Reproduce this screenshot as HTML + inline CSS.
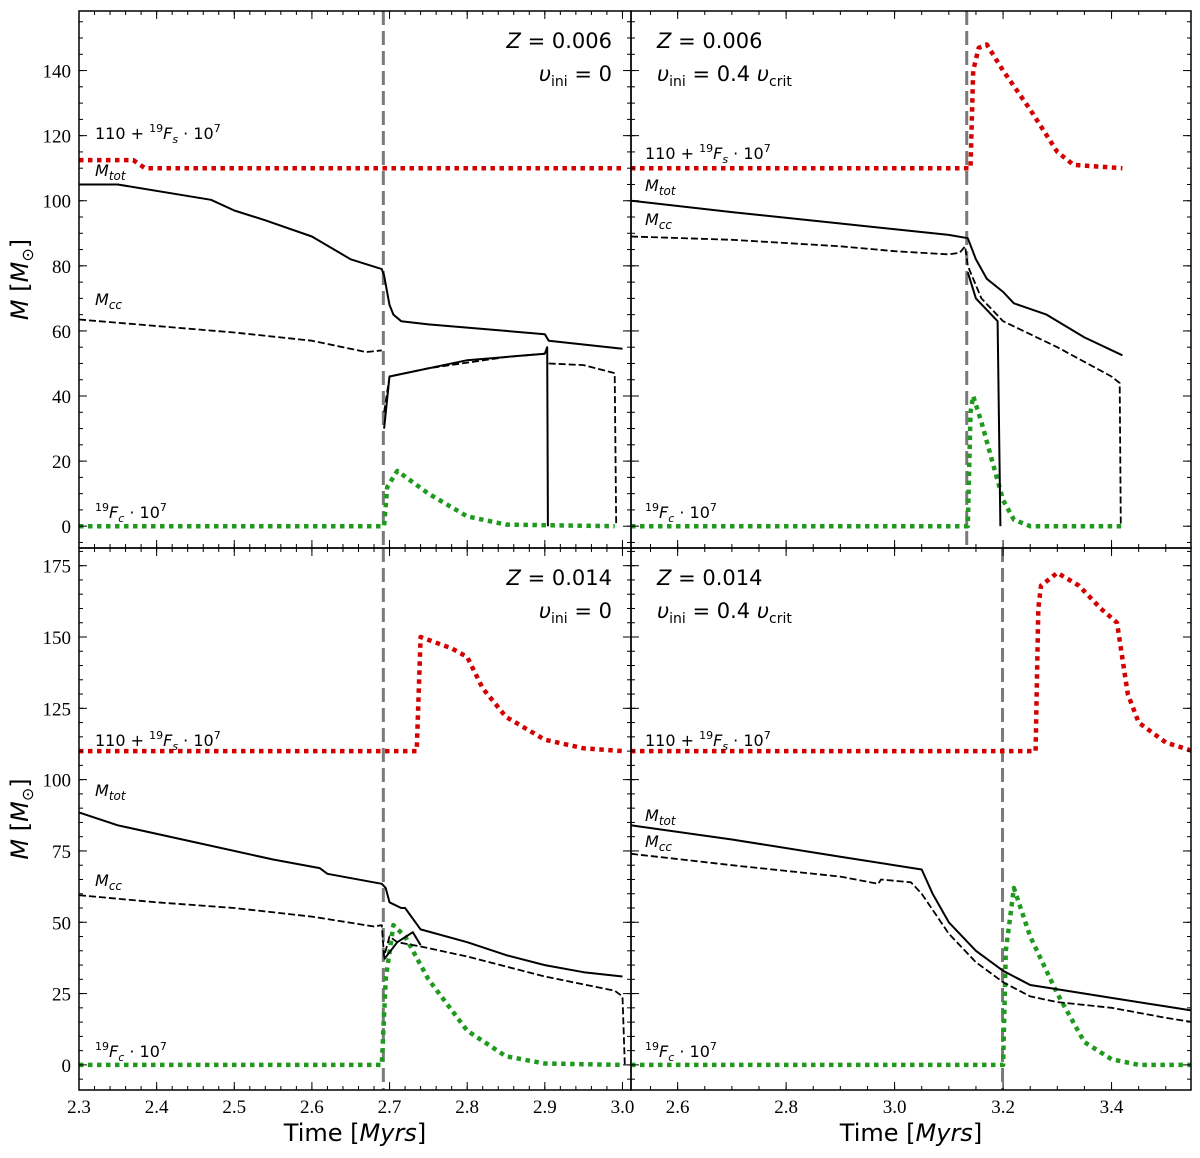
<!DOCTYPE html>
<html><head><meta charset="utf-8"><style>
body{margin:0;background:#fff}
svg{display:block}
text{font-family:"DejaVu Sans",sans-serif}
.tk{font-family:"Liberation Serif",serif;font-size:19px}
</style></head><body>
<svg id="fig" width="1200" height="1158" viewBox="0 0 1200 1158" xmlns="http://www.w3.org/2000/svg"></svg>
<script>
// ---- data (time in Myr, mass in Msun) ----
const tlRed=[[2.3,112.5],[2.37,112.5],[2.385,110],[3.0,110]];
const tlTot=[[2.3,105],[2.35,105],[2.47,100.3],[2.5,97],[2.54,94],[2.6,89],[2.65,82],[2.69,79],[2.693,77],[2.70,68],[2.705,65],[2.715,63],[2.75,62],[2.85,60],[2.9,59],[2.905,57],[3.0,54.5]];
const tlCcA=[[2.3,63.5],[2.4,61.5],[2.5,59.5],[2.6,57],[2.67,53.5],[2.69,54]];
const tlCcB=[[2.693,35],[2.70,46],[2.75,48.5],[2.85,52],[2.90,53]];
const tlCcC=[[2.905,50],[2.95,49.5],[2.99,47],[2.992,0]];
const tlCore=[[2.693,30],[2.70,46],[2.8,51],[2.90,53],[2.903,55],[2.904,0]];
const tlGreen=[[2.3,0],[2.693,0],[2.697,12],[2.71,17],[2.75,10],[2.8,3],[2.85,0.5],[2.99,0]];
const trRed=[[2.514,110],[3.14,110],[3.145,140],[3.155,147],[3.17,148],[3.2,140],[3.25,128],[3.3,115],[3.33,111],[3.42,110]];
const trTot=[[2.514,100],[2.7,96.5],[2.9,93],[3.1,89.5],[3.135,88.5],[3.15,82],[3.17,76],[3.2,72],[3.22,68.5],[3.28,65],[3.35,58],[3.42,52.5]];
const trCc=[[2.514,89],[2.7,88],[2.9,86],[3.0,84.5],[3.1,83.5],[3.12,84],[3.13,86],[3.135,80],[3.16,70],[3.2,63],[3.3,55],[3.4,46],[3.415,44],[3.417,0]];
const trCore=[[3.135,78],[3.15,70],[3.19,63],[3.195,0]];
const trGreen=[[2.514,0],[3.135,0],[3.14,35],[3.145,40],[3.16,32],[3.18,20],[3.2,8],[3.22,2],[3.25,0],[3.42,0]];
const blRed=[[2.3,110],[2.735,110],[2.74,150],[2.78,146],[2.80,143],[2.82,132],[2.85,122],[2.9,114],[2.95,111],[3.0,110]];
const blTot=[[2.3,88.5],[2.35,84],[2.45,78],[2.55,72],[2.61,69],[2.62,67],[2.69,63.5],[2.695,62],[2.70,57],[2.715,55],[2.72,55],[2.74,47.5],[2.8,43],[2.85,38.5],[2.9,35],[2.95,32.5],[3.0,31]];
const blCc=[[2.3,59.5],[2.4,57],[2.5,55],[2.6,52],[2.68,48.5],[2.69,49],[2.693,38],[2.70,45],[2.71,43],[2.74,41.5],[2.8,38],[2.9,31],[2.99,26],[3.0,24],[3.003,0]];
const blCore=[[2.693,37],[2.71,43],[2.73,46.5],[2.74,42]];
const blGreen=[[2.3,0],[2.69,0],[2.695,30],[2.705,49],[2.72,45],[2.75,30],[2.8,12],[2.85,3],[2.9,0.5],[3.0,0]];
const brRed=[[2.514,110],[3.26,110],[3.265,160],[3.27,168],[3.3,172.5],[3.34,168],[3.38,160],[3.41,155],[3.43,130],[3.45,120],[3.5,113],[3.55,110]];
const brTot=[[2.514,84],[2.7,79],[2.9,73],[3.05,68.5],[3.07,60],[3.1,50],[3.15,40],[3.2,33],[3.25,28],[3.3,26.5],[3.4,23.5],[3.5,20.5],[3.55,19]];
const brCc=[[2.514,74],[2.7,70],[2.9,66],[2.97,63.5],[2.975,65],[3.03,64],[3.05,60],[3.1,46],[3.15,36],[3.2,29],[3.25,24],[3.3,22],[3.4,20],[3.5,16.5],[3.55,15]];
const brGreen=[[2.514,0],[3.2,0],[3.205,40],[3.22,62],[3.25,45],[3.3,25],[3.35,8],[3.4,2],[3.45,0],[3.55,0]];
const vlines=[2.692,3.133,2.692,3.199];
const leftXTicks=[2.3,2.4,2.5,2.6,2.7,2.8,2.9,3.0];
const rightXTicks=[2.6,2.8,3.0,3.2,3.4];
const topYTicks=[0,20,40,60,80,100,120,140];
const botYTicks=[0,25,50,75,100,125,150,175];

const NS="http://www.w3.org/2000/svg";
const svg=document.getElementById('fig');
function el(tag,attrs,parent){const e=document.createElementNS(NS,tag);for(const k in attrs)e.setAttribute(k,attrs[k]);(parent||svg).appendChild(e);return e;}

const panels=[
 {name:'top-left',x0:79,x1:631,y0:11,y1:548,xmin:2.3,xmax:3.011,ymin:-6.7,ymax:158.3,xt:leftXTicks,xm:0.02,yt:topYTicks,ym:5,
  series:[[tlRed,'red'],[tlGreen,'green'],[tlTot,'tot'],[tlCcA,'cc'],[tlCcB,'cc'],[tlCcC,'cc'],[tlCore,'core']],vl:vlines[0],
  lab:[[95,139,'r'],[95,176,'t'],[95,305,'c'],[95,518,'f']],txt:{x:612,anchor:'end',z:'0.006',v:'0'}},
 {name:'top-right',x0:631,x1:1191,y0:11,y1:548,xmin:2.514,xmax:3.5465,ymin:-6.7,ymax:158.3,xt:rightXTicks,xm:0.05,yt:topYTicks,ym:5,
  series:[[trRed,'red'],[trGreen,'green'],[trTot,'tot'],[trCc,'cc'],[trCore,'core']],vl:vlines[1],
  lab:[[645,159,'r'],[645,191,'t'],[645,225,'c'],[645,518,'f']],txt:{x:657,anchor:'start',z:'0.006',v:'0.4'}},
 {name:'bottom-left',x0:79,x1:631,y0:548,y1:1090,xmin:2.3,xmax:3.011,ymin:-8.8,ymax:181.2,xt:leftXTicks,xm:0.02,yt:botYTicks,ym:5,
  series:[[blRed,'red'],[blGreen,'green'],[blTot,'tot'],[blCc,'cc'],[blCore,'core']],vl:vlines[2],
  lab:[[95,746,'r'],[95,796,'t'],[95,886,'c'],[95,1057,'f']],txt:{x:612,anchor:'end',z:'0.014',v:'0'}},
 {name:'bottom-right',x0:631,x1:1191,y0:548,y1:1090,xmin:2.514,xmax:3.5465,ymin:-8.8,ymax:181.2,xt:rightXTicks,xm:0.05,yt:botYTicks,ym:5,
  series:[[brRed,'red'],[brGreen,'green'],[brTot,'tot'],[brCc,'cc']],vl:vlines[3],
  lab:[[645,746,'r'],[645,821,'t'],[645,847,'c'],[645,1057,'f']],txt:{x:657,anchor:'start',z:'0.014',v:'0.4'}}
];
const styles={red:{stroke:'#d40000','stroke-width':4.5,'stroke-dasharray':'4.5 4.5'},
 green:{stroke:'#1f9a1f','stroke-width':4.5,'stroke-dasharray':'4.5 4.5'},
 tot:{stroke:'#000','stroke-width':2},cc:{stroke:'#000','stroke-width':1.8,'stroke-dasharray':'7 3'},core:{stroke:'#000','stroke-width':2}};

panels.forEach((p,pi)=>{
  const g=el('g',{});
  
  
  const X=v=>p.x0+(v-p.xmin)/(p.xmax-p.xmin)*(p.x1-p.x0);
  const Y=v=>p.y1-(v-p.ymin)/(p.ymax-p.ymin)*(p.y1-p.y0);
  const clip=el('clipPath',{id:'c'+pi},g);el('rect',{x:p.x0,y:p.y0,width:p.x1-p.x0,height:p.y1-p.y0},clip);
  const cg=el('g',{'clip-path':'url(#c'+pi+')'},g);
  const vl=el('line',{x1:X(p.vl),x2:X(p.vl),y1:p.y0,y2:p.y1,stroke:'#7a7a7a','stroke-width':3,'stroke-dasharray':'14 6'},cg);
  
  
  p.series.forEach(([d,k])=>{
    const path=el('path',Object.assign({d:d.map((q,i)=>(i?'L':'M')+X(q[0]).toFixed(1)+','+Y(q[1]).toFixed(1)).join(''),fill:'none','stroke-linejoin':'round'},styles[k]),cg);
    
    
  });
  el('rect',{x:p.x0,y:p.y0,width:p.x1-p.x0,height:p.y1-p.y0,fill:'none',stroke:'#000','stroke-width':1.5},g);
  for(let v=Math.ceil(p.xmin/p.xm)*p.xm;v<=p.xmax+1e-9;v+=p.xm){const x=X(v);
    el('line',{x1:x,x2:x,y1:p.y1,y2:p.y1-4,stroke:'#000'},g);el('line',{x1:x,x2:x,y1:p.y0,y2:p.y0+4,stroke:'#000'},g);}
  p.xt.forEach(v=>{const x=X(v);
    el('line',{x1:x,x2:x,y1:p.y1,y2:p.y1-8,stroke:'#000'},g);el('line',{x1:x,x2:x,y1:p.y0,y2:p.y0+8,stroke:'#000'},g);
    if(pi>=2){const t=el('text',{x:x,y:p.y1+23,'text-anchor':'middle',class:'tk'},g);t.textContent=v.toFixed(1);
      }});
  for(let v=Math.ceil(p.ymin/p.ym)*p.ym;v<=p.ymax;v+=p.ym){const y=Y(v);
    el('line',{x1:p.x0,x2:p.x0+4,y1:y,y2:y,stroke:'#000'},g);el('line',{x1:p.x1,x2:p.x1-4,y1:y,y2:y,stroke:'#000'},g);}
  p.yt.forEach(v=>{const y=Y(v);
    el('line',{x1:p.x0,x2:p.x0+8,y1:y,y2:y,stroke:'#000'},g);el('line',{x1:p.x1,x2:p.x1-8,y1:y,y2:y,stroke:'#000'},g);
    if(pi%2==0){const t=el('text',{x:p.x0-8,y:y+7,'text-anchor':'end',class:'tk'},g);t.textContent=v;
      }});
  p.lab.forEach(([x,y,k])=>{const t=el('text',{x:x,y:y,'font-size':16},g);
    if(k=='r')t.innerHTML='110 + <tspan font-size="11" dy="-7">19</tspan><tspan font-style="italic" dy="7">F</tspan><tspan font-style="italic" font-size="11" dy="4">s</tspan><tspan dy="-4"> · 10</tspan><tspan font-size="11" dy="-7">7</tspan>';
    if(k=='t')t.innerHTML='<tspan font-style="italic">M</tspan><tspan font-style="italic" font-size="12" dy="4">tot</tspan>';
    if(k=='c')t.innerHTML='<tspan font-style="italic">M</tspan><tspan font-style="italic" font-size="12" dy="4">cc</tspan>';
    if(k=='f')t.innerHTML='<tspan font-size="11" dy="-7">19</tspan><tspan font-style="italic" dy="7">F</tspan><tspan font-style="italic" font-size="11" dy="4">c</tspan><tspan dy="-4"> · 10</tspan><tspan font-size="11" dy="-7">7</tspan>';
    });
  const a=p.txt;
  const t1=el('text',{x:a.x,y:p.y0+37,'text-anchor':a.anchor,'font-size':21},g);
  t1.innerHTML='<tspan font-style="italic">Z</tspan> = '+a.z;
  
  const t2=el('text',{x:a.x,y:p.y0+70,'text-anchor':a.anchor,'font-size':21},g);
  t2.innerHTML=a.v=='0'?'<tspan font-style="italic">υ</tspan><tspan font-size="14" dy="5">ini</tspan><tspan dy="-5"> = 0</tspan>'
   :'<tspan font-style="italic">υ</tspan><tspan font-size="14" dy="5">ini</tspan><tspan dy="-5"> = 0.4 </tspan><tspan font-style="italic">υ</tspan><tspan font-size="14" dy="5">crit</tspan>';
  
  if(pi%2==0){const yl=el('text',{x:0,y:0,'font-size':24,'text-anchor':'middle',transform:'translate(28,'+((p.y0+p.y1)/2)+') rotate(-90)'},g);
    yl.innerHTML='<tspan font-style="italic">M</tspan> [<tspan font-style="italic">M</tspan><tspan font-size="16" dy="5">⊙</tspan><tspan dy="-5">]</tspan>';
    }
  if(pi>=2){const xl=el('text',{x:(p.x0+p.x1)/2,y:1141,'text-anchor':'middle','font-size':24,'font-family':'Liberation Serif'},g);
    xl.innerHTML='Time [<tspan font-style="italic" font-family="DejaVu Sans">Myrs</tspan>]';
    }
});
</script>
</body></html>
